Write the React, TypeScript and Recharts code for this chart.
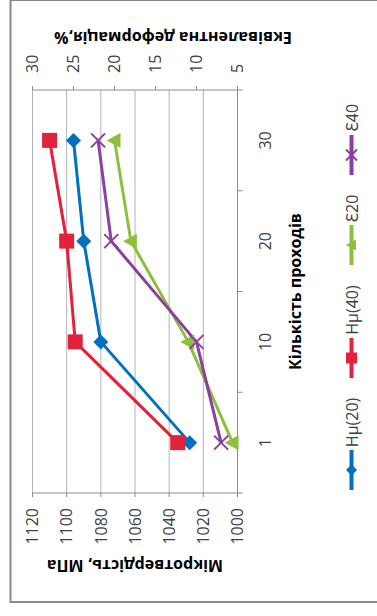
import React from 'react';
import { LineChart, Line, XAxis, YAxis, CartesianGrid, Legend, Label } from 'recharts';

// Number of passes (categories)
const passes = ['1', '10', '20', '30'];

// Microhardness, MPa
const hardness20 = [1028, 1080, 1090, 1096];
const hardness40 = [1035, 1095, 1100, 1110];

// Equivalent strain, %
const strain20 = [5.6, 11, 18, 20];
const strain40 = [7, 10, 20.4, 22];

const hardnessTicks = [1000, 1020, 1040, 1060, 1080, 1100, 1120];
const strainTicks = [5, 10, 15, 20, 25, 30];

const series = [
  { key: 'h20', name: 'Hμ(20)', color: '#0070C0', axis: 'hv', marker: 'diamond' },
  { key: 'h40', name: 'Hμ(40)', color: '#E2213B', axis: 'hv', marker: 'square' },
  { key: 'e20', name: 'Ɛ20', color: '#8DBF3C', axis: 'eps', marker: 'triangle' },
  { key: 'e40', name: 'Ɛ40', color: '#8B3F9E', axis: 'eps', marker: 'cross' },
];

const data = passes.map((p, i) => ({
  pass: p,
  h20: hardness20[i],
  h40: hardness40[i],
  e20: strain20[i],
  e40: strain40[i],
}));

const FONT = "'Open Sans', 'Noto Sans', sans-serif";
const AXIS = '#8c8c8c';
const GRID = '#b3b3b3';
const TEXT = '#404040';

// Chart is laid out in its own frame, then turned a quarter-turn counter-clockwise.
const W = 604;
const H = 372;

function Marker({ type, cx, cy, size, color }: any) {
  const s = size / 2;
  switch (type) {
    case 'diamond':
      return (
        <polygon
          points={`${cx},${cy - s} ${cx + s},${cy} ${cx},${cy + s} ${cx - s},${cy}`}
          fill={color}
        />
      );
    case 'square':
      return <rect x={cx - s} y={cy - s} width={size} height={size} fill={color} />;
    case 'triangle':
      return (
        <polygon
          points={`${cx},${cy - s * 1.05} ${cx + s},${cy + s * 0.8} ${cx - s},${cy + s * 0.8}`}
          fill={color}
        />
      );
    default:
      return (
        <g stroke={color} strokeWidth={2}>
          <line x1={cx - s} y1={cy - s} x2={cx + s} y2={cy + s} />
          <line x1={cx - s} y1={cy + s} x2={cx + s} y2={cy - s} />
        </g>
      );
  }
}

// Category tick: marks sit on the band edges, the label in the band middle
function PassTick(props: any) {
  const { x, y, payload, index, visibleTicksCount } = props;
  const half = payload.offset ?? 0;
  const last = index === visibleTicksCount - 1;
  return (
    <g>
      <line x1={x - half} y1={y} x2={x - half} y2={y + 5} stroke={AXIS} strokeWidth={1} />
      {last && <line x1={x + half} y1={y} x2={x + half} y2={y + 5} stroke={AXIS} strokeWidth={1} />}
      <text x={x} y={y + 22} dy="0.72em" textAnchor="middle" fill={TEXT} fontSize={16} fontFamily={FONT}>
        {payload.value}
      </text>
    </g>
  );
}

function LegendContent(props: any) {
  const payload = props.payload || [];
  return (
    <div
      style={{
        display: 'flex',
        justifyContent: 'center',
        alignItems: 'center',
        gap: 20,
        fontFamily: FONT,
        fontSize: 16,
        color: TEXT,
        height: 22,
      }}
    >
      {payload.map((entry: any) => {
        const s = series.find((it) => it.key === entry.dataKey)!;
        return (
          <div key={s.key} style={{ display: 'flex', alignItems: 'center' }}>
            <svg width={40} height={16} style={{ display: 'block' }}>
              <line x1={0} y1={8} x2={40} y2={8} stroke={s.color} strokeWidth={4} />
              <Marker type={s.marker} cx={20} cy={8} size={11} color={s.color} />
            </svg>
            <span style={{ marginLeft: 3, lineHeight: '22px' }}>{s.name}</span>
          </div>
        );
      })}
    </div>
  );
}

const titleStyle = {
  fontFamily: FONT,
  fontSize: 16,
  fontWeight: 700,
  fill: '#000',
} as const;

export default function App() {
  return (
    <div
      style={{
        position: 'absolute',
        left: 0,
        top: 0,
        width: 377,
        height: 616,
        overflow: 'hidden',
        background: '#fff',
      }}
    >
      <div
        style={{
          position: 'absolute',
          left: 0,
          top: 0,
          width: W,
          height: H,
          transformOrigin: '0 0',
          transform: 'translate(9.5px, 603px) rotate(-90deg)',
        }}
      >
        <LineChart
          width={W}
          height={H}
          data={data}
          margin={{ top: 23, right: 0, bottom: 0, left: 0 }}
          style={{ fontFamily: FONT }}
        >
          <CartesianGrid yAxisId="hv" vertical={false} stroke={GRID} strokeWidth={1} />
          <XAxis
            dataKey="pass"
            scale="band"
            height={H - 23 - 205}
            axisLine={{ stroke: AXIS, strokeWidth: 1 }}
            tickLine={false}
            tickSize={0}
            tickMargin={0}
            tick={<PassTick />}
            interval={0}
          >
            <Label
              content={(p: any) => {
                const vb = p.viewBox;
                const cx = vb.x + vb.width / 2;
                const cy = vb.y + 57;
                return (
                  <text x={cx} y={cy} textAnchor="middle" dominantBaseline="central" {...titleStyle}>
                    Кількість проходів
                  </text>
                );
              }}
            />
          </XAxis>
          <YAxis
            yAxisId="hv"
            width={110}
            domain={[1000, 1120]}
            ticks={hardnessTicks}
            interval={0}
            axisLine={{ stroke: AXIS, strokeWidth: 1 }}
            tickLine={{ stroke: AXIS }}
            tickSize={4}
            tickMargin={11}
            tick={{ fill: TEXT, fontSize: 16, fontFamily: FONT }}
          >
            <Label
              content={(p: any) => {
                const vb = p.viewBox;
                const cx = vb.x + 37;
                const cy = vb.y + vb.height / 2;
                return (
                  <text
                    x={cx}
                    y={cy}
                    transform={`rotate(-90 ${cx} ${cy})`}
                    textAnchor="middle"
                    dominantBaseline="central"
                    {...titleStyle}
                  >
                    Мікротвердість, МПа
                  </text>
                );
              }}
            />
          </YAxis>
          <YAxis
            yAxisId="eps"
            orientation="right"
            width={W - 513}
            domain={[5, 30]}
            ticks={strainTicks}
            interval={0}
            axisLine={{ stroke: AXIS, strokeWidth: 1 }}
            tickLine={{ stroke: AXIS }}
            tickSize={4}
            tickMargin={13}
            tick={{ fill: TEXT, fontSize: 16, fontFamily: FONT }}
          >
            <Label
              content={(p: any) => {
                const vb = p.viewBox;
                const cx = vb.x + 52.5;
                const cy = vb.y + vb.height / 2 + 38;
                return (
                  <text
                    x={cx}
                    y={cy}
                    transform={`rotate(-90 ${cx} ${cy})`}
                    textAnchor="middle"
                    dominantBaseline="central"
                    {...titleStyle}
                  >
                    Еквівалентна деформація,%
                  </text>
                );
              }}
            />
          </YAxis>
          <Legend
            layout="horizontal"
            align="center"
            verticalAlign="middle"
            content={<LegendContent />}
            wrapperStyle={{ left: 4, top: 331, width: W, height: 22 }}
          />
          {series.map((s) => (
            <Line
              key={s.key}
              dataKey={s.key}
              name={s.name}
              yAxisId={s.axis}
              stroke={s.color}
              strokeWidth={3}
              strokeLinejoin="round"
              isAnimationActive={false}
              dot={(p: any) => (
                <Marker
                  key={`${s.key}-${p.index}`}
                  type={s.marker}
                  cx={p.cx}
                  cy={p.cy}
                  size={s.marker === 'diamond' ? 15 : s.marker === 'cross' ? 14 : 15}
                  color={s.color}
                />
              )}
              activeDot={false}
            />
          ))}
        </LineChart>
        <div
          style={{
            position: 'absolute',
            left: 0,
            top: 0,
            width: W,
            height: H,
            border: '2px solid #8a8a8a',
            boxSizing: 'border-box',
            pointerEvents: 'none',
          }}
        />
      </div>
    </div>
  );
}
